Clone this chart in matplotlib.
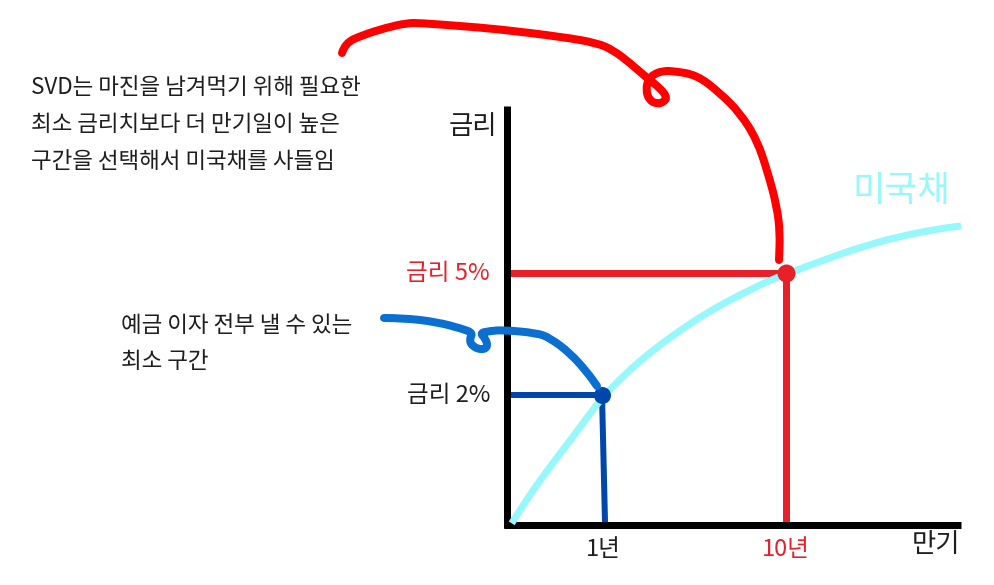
import matplotlib
matplotlib.use("Agg")
import matplotlib.pyplot as plt
from matplotlib.path import Path
from matplotlib.patches import PathPatch

plt.rcParams['font.family'] = ['Noto Sans CJK KR', 'DejaVu Sans']

# ---- data (pixel-space diagram coordinates, y downward) ----
curve_x = [511.7, 523.3, 533.3, 550, 566.7, 583.3, 601.7, 616.7, 633.3, 650, 666.7, 683.3, 700,
           716.7, 733.3, 750, 766.7, 786, 800, 816.7, 833.3, 850, 866.7, 883.3, 900, 916.7,
           933.3, 946.7, 961]
curve_y = [523.3, 505, 490, 466.7, 445, 422.7, 398, 382.7, 366.7, 352.7, 340, 328.3, 317.3,
           307.3, 298.3, 290, 281.7, 274, 269, 262.7, 256.7, 250.7, 245.7, 240.7, 236.7, 233,
           230, 227.7, 226]

point_labels = ["1년", "10년"]
point_x = [602, 786]
point_y = [395, 273]
rate_labels = ["금리 2%", "금리 5%"]

red_note_x = [342, 345, 363, 385, 407, 420, 460, 497, 563, 597, 613, 630, 647, 660, 667, 664,
              657, 649, 646, 648, 654, 663, 673, 697, 720, 740, 757, 768, 777, 780, 779]
red_note_y = [53, 43, 35, 28, 23, 23, 26, 29, 37, 43, 50, 63, 78, 88, 97, 102,
              104, 100, 90, 80, 74, 71, 71, 75, 93, 113, 140, 173, 207, 233, 260]

blue_note_x = [384, 403, 437, 463, 473, 469, 473, 483, 488, 485, 480, 490, 503, 537, 550, 570, 587, 597]
blue_note_y = [318, 318, 322, 329, 333, 340, 347, 350, 346, 338, 333, 331, 330, 333, 338, 353, 372, 386]

note1 = ["SVD는 마진을 남겨먹기 위해 필요한", "최소 금리치보다 더 만기일이 높은", "구간을 선택해서 미국채를 사들임"]
note2 = ["예금 이자 전부 낼 수 있는", "최소 구간"]

W, H = 995, 585
fig = plt.figure(figsize=(W / 100, H / 100), dpi=100)
ax = fig.add_axes([0, 0, 1, 1])
ax.set_xlim(0, W)
ax.set_ylim(H, 0)
ax.axis('off')

px = 0.72  # points per pixel

RED = '#e8202a'
BLUE = '#0047ab'
CYAN = '#96f8fb'
TXT = '#1e1e1e'


def smooth_stroke(xs, ys, color, width, z, cap='round'):
    pts = list(zip(xs, ys))
    verts = [pts[0]]
    codes = [Path.MOVETO]
    for i in range(1, len(pts) - 1):
        mid = ((pts[i][0] + pts[i + 1][0]) / 2, (pts[i][1] + pts[i + 1][1]) / 2)
        verts += [pts[i], mid]
        codes += [Path.CURVE3, Path.CURVE3]
    verts.append(pts[-1])
    codes.append(Path.LINETO)
    patch = PathPatch(Path(verts, codes), fill=False, edgecolor=color, lw=width,
                      capstyle=cap, joinstyle='round', zorder=z)
    ax.add_patch(patch)


# axes lines
ax.plot([507, 507], [106, 528], color='black', lw=7 * px, solid_capstyle='butt', zorder=3)
ax.plot([504, 961], [525, 525], color='black', lw=7 * px, solid_capstyle='butt', zorder=3)

# guide lines
ax.plot([510, point_x[1]], [point_y[1], point_y[1]], color=RED, lw=7 * px, solid_capstyle='butt', zorder=2)
ax.plot([point_x[1], point_x[1]], [point_y[1], 522], color=RED, lw=7 * px, solid_capstyle='butt', zorder=2)
ax.plot([507, point_x[0]], [point_y[0], point_y[0]], color=BLUE, lw=6 * px, solid_capstyle='butt', zorder=2)
ax.plot([point_x[0], point_x[0] + 3], [point_y[0], 522], color=BLUE, lw=6 * px, solid_capstyle='butt', zorder=2)

# yield curve
smooth_stroke(curve_x, curve_y, CYAN, 7 * px, 4, cap='butt')

# points
ax.scatter([point_x[1]], [point_y[1]], s=(18 * px) ** 2, color=RED, zorder=5, linewidths=0)
ax.scatter([point_x[0]], [point_y[0]], s=(17 * px) ** 2, color=BLUE, zorder=5, linewidths=0)

# freehand annotations
smooth_stroke(red_note_x, red_note_y, '#ff0000', 8 * px, 6)
smooth_stroke(blue_note_x, blue_note_y, '#0a6fd0', 8 * px, 6)

# labels
fs = 16.2
lfs = 17
ax.text(497, 126, "금리", fontsize=19, ha='right', va='center', color=TXT, fontweight='light')
ax.text(960, 545, "만기", fontsize=19, ha='right', va='center', color=TXT, fontweight='light')
ax.text(490, 274, rate_labels[1], fontsize=lfs, ha='right', va='center', color=RED, fontweight='light')
ax.text(490, 396, rate_labels[0], fontsize=lfs, ha='right', va='center', color=TXT, fontweight='light')
ax.text(point_x[0] + 1, 549, point_labels[0], fontsize=lfs, ha='center', va='center', color=TXT, fontweight='light')
ax.text(point_x[1], 549, point_labels[1], fontsize=lfs, ha='center', va='center', color=RED, fontweight='light')
ax.text(901, 191, "미국채", fontsize=25.5, ha='center', va='center', color=CYAN)

for i, line in enumerate(note1):
    ax.text(31, 87 + i * 37.5, line, fontsize=fs, ha='left', va='center', color=TXT, fontweight='light')
for i, line in enumerate(note2):
    ax.text(121, 326 + i * 36, line, fontsize=fs, ha='left', va='center', color=TXT, fontweight='light')

fig.savefig('out.png', dpi=100)
